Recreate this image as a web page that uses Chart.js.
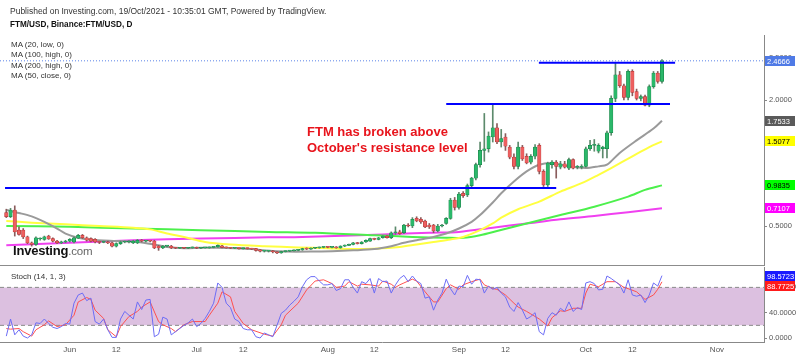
<!DOCTYPE html>
<html><head><meta charset="utf-8">
<script src="https://cdn.jsdelivr.net/npm/chart.js@4.4.0/dist/chart.umd.min.js"></script>
<style>
html,body{margin:0;padding:0;background:#fff;width:800px;height:357px;overflow:hidden;font-family:"Liberation Sans",Arial,sans-serif;}
#wrap{position:relative;width:800px;height:357px;}
canvas{position:absolute;left:0;}
#c1{top:0}
#c2{top:266px}
.t{position:absolute;color:#222;font-size:8px;line-height:10px;white-space:nowrap;}
</style></head><body>
<div id="wrap">
<canvas id="c1" width="800" height="266"></canvas>
<canvas id="c2" width="800" height="91"></canvas>
<div class="t" style="left:10px;top:6px;font-size:8.5px;color:#333">Published on Investing.com, 19/Oct/2021 - 10:35:01 GMT, Powered by TradingView.</div>
<div class="t" style="left:10px;top:20px;font-weight:bold;font-size:8.2px;color:#111">FTM/USD, Binance:FTM/USD, D</div>
<div class="t" style="left:11px;top:40px;line-height:10.3px;color:#333">MA (20, low, 0)<br>MA (100, high, 0)<br>MA (200, high, 0)<br>MA (50, close, 0)</div>
<div class="t" style="left:307px;top:124px;font-size:13px;line-height:15.5px;font-weight:bold;color:#e8141c">FTM has broken above<br>October's resistance level</div>
<div class="t" style="left:13px;top:243px;font-size:13px;line-height:15px;font-weight:bold;color:#111;letter-spacing:-0.2px">Investing<span style="font-weight:normal;color:#666;font-size:11.5px">.com</span></div>
<div class="t" style="left:11px;top:272px;color:#333">Stoch (14, 1, 3)</div>
</div>
<script>
// ---------- DATA (day 0 = 17 May 2021, last = 19 Oct 2021) ----------
const opens = [
0.66,0.61,0.69,0.45,0.45,0.37,0.30,0.28,0.345,0.34,
0.38,0.35,0.32,0.30,0.31,0.32,0.31,0.355,0.39,0.36,
0.35,0.34,0.31,0.305,0.31,0.30,0.26,0.29,0.31,0.31,
0.30,0.30,0.33,0.32,0.325,0.32,0.26,0.24,0.26,0.26,
0.24,0.235,0.24,0.235,0.24,0.245,0.235,0.24,0.24,0.245,
0.25,0.265,0.245,0.24,0.235,0.235,0.23,0.235,0.23,0.23,
0.215,0.20,0.20,0.205,0.19,0.18,0.195,0.20,0.205,0.21,
0.215,0.23,0.225,0.235,0.24,0.245,0.25,0.245,0.25,0.24,
0.26,0.27,0.28,0.30,0.29,0.31,0.32,0.35,0.34,0.36,
0.38,0.36,0.42,0.43,0.42,0.51,0.50,0.59,0.58,0.56,
0.51,0.51,0.44,0.50,0.53,0.59,0.81,0.72,0.89,0.87,
0.98,1.07,1.23,1.40,1.42,1.56,1.67,1.50,1.56,1.44,
1.32,1.21,1.44,1.33,1.26,1.33,1.46,1.15,0.99,1.23,
1.26,1.20,1.24,1.19,1.29,1.20,1.20,1.21,1.42,1.46,
1.39,1.42,1.42,1.61,2.02,2.30,2.17,2.03,2.34,2.10,
2.02,2.04,1.94,2.16,2.32,2.22];
const highs = [
0.70,0.71,0.74,0.49,0.47,0.38,0.31,0.37,0.36,0.38,
0.39,0.36,0.33,0.32,0.33,0.35,0.37,0.40,0.40,0.37,
0.36,0.35,0.32,0.32,0.32,0.31,0.30,0.32,0.32,0.325,
0.33,0.34,0.34,0.33,0.33,0.33,0.27,0.27,0.27,0.27,
0.245,0.245,0.245,0.245,0.25,0.25,0.245,0.245,0.25,0.255,
0.275,0.27,0.25,0.245,0.24,0.24,0.24,0.24,0.235,0.235,
0.22,0.21,0.21,0.21,0.195,0.20,0.205,0.21,0.215,0.22,
0.235,0.24,0.24,0.245,0.25,0.255,0.255,0.255,0.255,0.265,
0.275,0.285,0.305,0.305,0.315,0.335,0.355,0.355,0.365,0.385,
0.385,0.43,0.49,0.45,0.52,0.53,0.60,0.61,0.60,0.57,
0.53,0.52,0.52,0.52,0.60,0.83,0.84,0.90,0.91,1.00,
1.08,1.25,1.50,1.84,1.62,1.94,1.72,1.65,1.60,1.46,
1.36,1.50,1.46,1.36,1.35,1.47,1.48,1.17,1.26,1.28,
1.28,1.27,1.27,1.31,1.30,1.22,1.23,1.44,1.52,1.53,
1.48,1.45,1.63,2.05,2.44,2.34,2.19,2.36,2.36,2.13,
2.06,2.06,2.18,2.34,2.34,2.48];
const lows = [
0.60,0.60,0.38,0.39,0.35,0.29,0.26,0.27,0.33,0.33,
0.34,0.31,0.29,0.29,0.30,0.31,0.30,0.35,0.35,0.32,
0.31,0.30,0.29,0.30,0.29,0.25,0.25,0.28,0.30,0.30,
0.29,0.29,0.31,0.31,0.31,0.23,0.21,0.23,0.25,0.23,
0.23,0.23,0.23,0.23,0.235,0.23,0.23,0.235,0.235,0.24,
0.245,0.24,0.235,0.23,0.23,0.225,0.225,0.225,0.22,0.20,
0.19,0.19,0.19,0.18,0.17,0.175,0.19,0.195,0.20,0.205,
0.21,0.22,0.22,0.23,0.235,0.24,0.24,0.24,0.235,0.235,
0.255,0.265,0.275,0.285,0.285,0.305,0.315,0.335,0.335,0.355,
0.355,0.35,0.40,0.40,0.41,0.49,0.48,0.55,0.53,0.48,
0.47,0.42,0.43,0.49,0.52,0.58,0.69,0.70,0.84,0.85,
0.96,1.05,1.20,1.27,1.38,1.50,1.48,1.44,1.40,1.30,
1.18,1.18,1.28,1.24,1.24,1.30,1.12,0.97,0.97,1.19,
1.07,1.18,1.19,1.17,1.18,1.18,1.18,1.20,1.40,1.39,
1.37,1.31,1.31,1.58,1.98,2.15,2.00,2.00,2.05,2.00,
1.99,1.93,1.92,2.14,2.20,2.20];
const closes = [
0.61,0.69,0.43,0.40,0.37,0.30,0.28,0.36,0.35,0.37,
0.345,0.32,0.30,0.31,0.32,0.34,0.36,0.39,0.36,0.33,
0.32,0.31,0.305,0.315,0.30,0.26,0.29,0.31,0.315,0.32,
0.32,0.33,0.32,0.325,0.32,0.24,0.24,0.26,0.265,0.24,
0.235,0.24,0.235,0.24,0.245,0.235,0.24,0.24,0.245,0.25,
0.27,0.245,0.24,0.235,0.235,0.23,0.235,0.23,0.225,0.21,
0.20,0.20,0.205,0.19,0.18,0.195,0.20,0.205,0.21,0.215,
0.23,0.225,0.235,0.24,0.245,0.25,0.245,0.25,0.24,0.26,
0.27,0.28,0.30,0.29,0.31,0.33,0.35,0.34,0.36,0.38,
0.36,0.42,0.43,0.41,0.51,0.50,0.58,0.56,0.55,0.49,
0.49,0.44,0.50,0.51,0.59,0.81,0.72,0.88,0.86,0.98,
1.07,1.23,1.40,1.42,1.57,1.67,1.50,1.54,1.45,1.32,
1.21,1.44,1.30,1.25,1.33,1.44,1.15,0.99,1.25,1.26,
1.21,1.24,1.20,1.29,1.19,1.205,1.21,1.42,1.46,1.46,
1.46,1.44,1.61,2.02,2.30,2.17,2.03,2.34,2.09,2.02,
2.04,1.94,2.16,2.32,2.22,2.4666];

const ma20LowDays = [0,3,6,9,12,14,17,20,26,31,35,38,42,46,50,54,58,62,66,72,77,82,87,91,94,97,101,104,107,110,112,115,117,120,123,126,129,133,137,140,142,145,149,153,155];
const ma20LowVals = [0.69,0.655,0.615,0.55,0.47,0.41,0.36,0.335,0.32,0.31,0.28,0.25,0.235,0.24,0.24,0.235,0.225,0.205,0.195,0.195,0.20,0.21,0.225,0.26,0.30,0.33,0.37,0.41,0.47,0.55,0.63,0.78,0.89,1.03,1.15,1.23,1.25,1.21,1.19,1.21,1.23,1.37,1.52,1.66,1.7533];
const ma50CloseDays = [0,6,14,22,30,34,38,42,47,53,61,69,76,81,87,93,97,101,105,108,112,115,117,121,126,131,136,140,143,148,152,155];
const ma50CloseVals = [0.56,0.54,0.52,0.50,0.48,0.46,0.41,0.37,0.31,0.28,0.26,0.245,0.235,0.225,0.23,0.25,0.28,0.31,0.34,0.37,0.45,0.53,0.60,0.70,0.79,0.91,1.01,1.11,1.19,1.33,1.44,1.5077];
const ma100HighDays = [0,15,30,46,62,73,87,96,104,108,112,116,123,131,139,147,151,155];
const ma100HighVals = [0.50,0.49,0.47,0.45,0.43,0.42,0.39,0.37,0.36,0.36,0.39,0.44,0.53,0.63,0.73,0.85,0.93,0.9835];
const ma200HighDays = [0,15,30,46,62,70,89,100,107,115,123,131,139,147,155];
const ma200HighVals = [0.27,0.30,0.33,0.35,0.365,0.37,0.40,0.42,0.43,0.48,0.53,0.58,0.62,0.665,0.7107];

const stochK = [
3,30,5,13,3,0,5,24,23,30,
23,17,15,18,23,22,55,68,71,59,
63,26,22,30,13,1,1,30,42,36,
30,57,45,60,61,2,6,33,30,5,
10,15,20,24,30,18,23,31,42,55,
87,80,55,48,30,26,15,13,13,2,
0,8,5,2,20,39,44,52,58,65,
81,92,97,97,90,84,84,86,75,78,
92,92,80,71,89,86,94,71,94,89,
90,71,84,94,99,89,98,90,86,63,
65,44,60,71,93,78,68,82,81,99,
85,93,92,71,82,77,80,71,65,49,
42,56,44,30,34,40,10,5,31,40,
36,47,42,57,42,48,45,87,89,86,
76,77,98,94,89,84,71,92,68,66,
68,56,68,87,82,98.5723];
const stochDDays = [0,1,3,4,6,7,9,10,12,14,16,17,19,20,21,23,24,26,27,29,31,32,34,36,37,39,40,42,44,47,48,50,51,53,54,56,58,61,63,65,66,69,71,73,75,77,78,80,81,83,84,86,88,89,91,92,93,94,96,97,99,101,102,104,105,107,108,110,112,113,115,116,118,120,121,123,124,126,128,129,131,132,134,136,137,138,140,142,144,146,147,149,151,153,154,155];
const stochDVals = [15,14,15,10,3,13,21,27,18,21,36,57,64,61,44,31,13,2,18,34,42,49,57,26,21,15,10,21,26,26,36,55,73,65,42,23,13,6,3,21,36,55,76,90,92,86,80,82,89,82,85,84,82,90,85,80,84,87,93,90,73,57,57,78,84,77,84,89,93,84,78,77,68,55,49,42,38,30,19,32,43,42,47,47,71,85,81,89,89,80,78,73,61,68,77,88.7725];

const resistanceFrom  = [-0.3, 104, 125.9];
const resistanceTo    = [130, 156.9, 158.1];
const resistanceLevel = [0.952, 1.952, 2.444];

const priceTicks = [0.5, 1.0, 1.5, 2.0, 2.5];
const stochTicks = [0, 40, 80];
const stochBand = [20, 80];
const monthTickDays = [15, 26, 45, 56, 76, 87, 107, 118, 137, 148, 168];
const monthTickLabels = ['Jun','12','Jul','12','Aug','12','Sep','12','Oct','12','Nov'];

// ---------- layout constants ----------
const XMIN = -1.49, XMAX = 179.12;
const FONT = '"Liberation Sans", Arial, sans-serif';
const last = a => a[a.length - 1];
const pts = (ds, vs) => ds.map((d, i) => ({x: d, y: vs[i]}));

const tagPlugin = {
  id: 'tags',
  afterDraw(chart, args, opts) {
    const ctx = chart.ctx, sc = chart.scales.y;
    let prev = -Infinity;
    ctx.save();
    ctx.font = '7.5px ' + FONT;
    ctx.textBaseline = 'middle';
    opts.items.forEach(it => {
      let py = sc.getPixelForValue(it.value);
      if (py < prev + 10) py = prev + 10;
      prev = py;
      ctx.fillStyle = it.bg;
      ctx.fillRect(sc.left + 1, Math.round(py) - 5, 30, 10);
      ctx.fillStyle = it.fg;
      ctx.fillText(it.value.toFixed(4), sc.left + 3, Math.round(py) + 0.5);
    });
    if (opts.separator) {
      ctx.strokeStyle = '#8c8c8c'; ctx.lineWidth = 1;
      ctx.beginPath();
      ctx.moveTo(0, chart.chartArea.bottom - 0.5);
      ctx.lineTo(sc.left, chart.chartArea.bottom - 0.5);
      ctx.stroke();
    }
    ctx.restore();
  }
};

function yAxis(min, max, ticks) {
  return {
    position: 'right', min, max,
    afterFit(s) { s.width = 36; s.paddingTop = 0; s.paddingBottom = 0; },
    afterBuildTicks(s) { s.ticks = ticks.map(v => ({value: v})); },
    ticks: { callback: v => Number(v).toFixed(4), font: {size: 7.5, family: FONT}, color: '#555', padding: 2 },
    grid: { drawOnChartArea: false, tickLength: 3, color: '#888' },
    border: { color: '#888' }
  };
}

const up = i => closes[i] >= opens[i];
const idx = closes.map((c, i) => i);

new Chart(document.getElementById('c1'), {
  type: 'bar',
  data: {
    datasets: [
      ...resistanceLevel.map((lv, k) => ({
        type: 'line', order: 0,
        data: [{x: resistanceFrom[k], y: lv}, {x: resistanceTo[k], y: lv}],
        borderColor: '#0000ff', borderWidth: 2, pointRadius: 0
      })),
      { type: 'bar', order: 2, grouped: false, barThickness: 3.4, minBarLength: 1, borderSkipped: false,
        data: idx.map(i => ({x: i, y: [opens[i], closes[i]]})),
        backgroundColor: idx.map(i => up(i) ? '#2bb86a' : '#ee5f5f'),
        borderColor: idx.map(i => up(i) ? '#157a42' : '#a83030'),
        borderWidth: 0.5 },
      { type: 'bar', order: 3, grouped: false, barThickness: 1,
        data: idx.map(i => ({x: i, y: [lows[i], highs[i]]})),
        backgroundColor: idx.map(i => up(i) ? '#5c8a6c' : '#8a5c5c') },
      { type: 'line', order: 4, data: pts(ma20LowDays, ma20LowVals), borderColor: '#9a9a9a', borderWidth: 2, pointRadius: 0, tension: 0.3 },
      { type: 'line', order: 4, data: pts(ma50CloseDays, ma50CloseVals), borderColor: '#ffff40', borderWidth: 2, pointRadius: 0, tension: 0.3 },
      { type: 'line', order: 4, data: pts(ma100HighDays, ma100HighVals), borderColor: '#4cf04c', borderWidth: 2, pointRadius: 0, tension: 0.3 },
      { type: 'line', order: 4, data: pts(ma200HighDays, ma200HighVals), borderColor: '#f040f0', borderWidth: 2, pointRadius: 0, tension: 0.3 },
      { type: 'line', order: 6, data: [{x: XMIN, y: last(closes)}, {x: XMAX, y: last(closes)}],
        borderColor: '#5b83e8', borderWidth: 1, borderDash: [1, 2], pointRadius: 0 }
    ]
  },
  options: {
    responsive: false, animation: false, events: [],
    layout: { padding: {left: 0, right: 0, top: 35, bottom: 0} },
    plugins: {
      legend: {display: false}, tooltip: {enabled: false},
      tags: { separator: true, items: [
        {value: last(closes), bg: '#4f7ae6', fg: '#fff'},
        {value: last(ma20LowVals), bg: '#5a5a5a', fg: '#fff'},
        {value: last(ma50CloseVals), bg: '#ffff00', fg: '#000'},
        {value: last(ma100HighVals), bg: '#00ff00', fg: '#000'},
        {value: last(ma200HighVals), bg: '#ff00ff', fg: '#fff'}
      ]}
    },
    scales: {
      x: { type: 'linear', min: XMIN, max: XMAX, offset: false, display: false, grid: {offset: false} },
      y: yAxis(0.0238, 2.774, priceTicks)
    }
  },
  plugins: [tagPlugin]
});

new Chart(document.getElementById('c2'), {
  type: 'line',
  data: {
    datasets: [
      { order: 0, data: stochK.map((v, i) => ({x: i, y: v})), borderColor: '#6d6df6', borderWidth: 1, pointRadius: 0 },
      { order: 1, data: pts(stochDDays, stochDVals), borderColor: '#ff5050', borderWidth: 1, pointRadius: 0 },
      { order: 3, data: [{x: XMIN, y: stochBand[0]}, {x: XMAX, y: stochBand[0]}], borderColor: '#8a8a8a', borderWidth: 1, borderDash: [4, 3], pointRadius: 0, fill: false },
      { order: 3, data: [{x: XMIN, y: stochBand[1]}, {x: XMAX, y: stochBand[1]}], borderColor: '#8a8a8a', borderWidth: 1, borderDash: [4, 3], pointRadius: 0,
        fill: {target: 2}, backgroundColor: '#dcc0e0' }
    ]
  },
  options: {
    responsive: false, animation: false, events: [],
    layout: { padding: {left: 0, right: 0, top: 1, bottom: 0} },
    plugins: {
      legend: {display: false}, tooltip: {enabled: false},
      tags: { items: [
        {value: last(stochK), bg: '#1a1aff', fg: '#fff'},
        {value: last(stochDVals), bg: '#ff1a1a', fg: '#fff'}
      ]}
    },
    scales: {
      x: { type: 'linear', min: XMIN, max: XMAX, offset: false,
        afterFit(s) { s.height = 15; s.paddingLeft = 0; s.paddingRight = 0; },
        afterBuildTicks(s) { s.ticks = monthTickDays.map(v => ({value: v})); },
        ticks: { autoSkip: false, maxRotation: 0, padding: 3, font: {size: 8, family: FONT}, color: '#555',
          callback: v => { const k = monthTickDays.indexOf(v); return k >= 0 ? monthTickLabels[k] : ''; } },
        grid: { display: false, drawTicks: false, tickLength: 0 },
        border: { display: true, color: '#888' }
      },
      y: yAxis(-6.3, 112.2, stochTicks)
    }
  },
  plugins: [tagPlugin]
});
</script>
</body></html>
